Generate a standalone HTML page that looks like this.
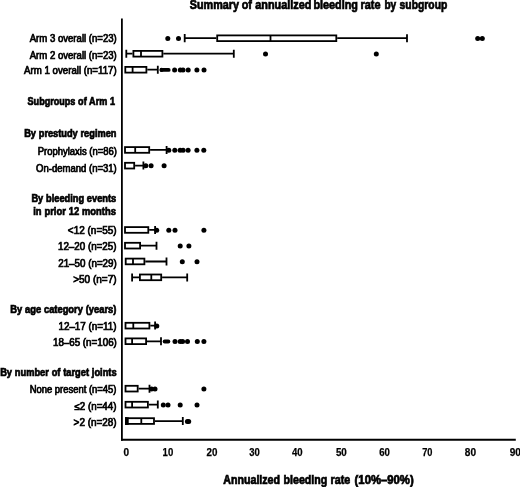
<!DOCTYPE html>
<html lang="en">
<head>
<meta charset="utf-8">
<title>Summary of annualized bleeding rate by subgroup</title>
<style>
html,body{margin:0;padding:0;background:#fff;}
body{width:520px;height:487px;overflow:hidden;}
svg{display:block;}
text{font-family:"Liberation Sans",sans-serif;font-size:10.1px;fill:#000;}
.b{font-weight:bold;stroke:#000;stroke-width:0.7px;word-spacing:0.3px;}
.r{stroke:#000;stroke-width:0.7px;}
.t{font-weight:bold;stroke:#000;stroke-width:0.25px;}
.bx{fill:#fff;stroke:#000;stroke-width:1.8;}
.ln{stroke:#000;stroke-width:1.8;fill:none;}
</style>
</head>
<body>
<svg width="520" height="487" viewBox="0 0 520 487">
<rect width="520" height="487" fill="#fff"/>

<text class="b" y="9.3" style="font-size:12.4px"><tspan x="189.85" textLength="49.15" lengthAdjust="spacingAndGlyphs">Summary</tspan> <tspan x="241.66" textLength="10.23" lengthAdjust="spacingAndGlyphs">of</tspan> <tspan x="255.22" textLength="56.20" lengthAdjust="spacingAndGlyphs">annualized</tspan> <tspan x="313.41" textLength="44.53" lengthAdjust="spacingAndGlyphs">bleeding</tspan> <tspan x="360.48" textLength="20.00" lengthAdjust="spacingAndGlyphs">rate</tspan> <tspan x="384.45" textLength="11.80" lengthAdjust="spacingAndGlyphs">by</tspan> <tspan x="399.61" textLength="47.69" lengthAdjust="spacingAndGlyphs">subgroup</tspan></text>
<text class="b" y="484.0" style="font-size:12.0px"><tspan x="223.28" textLength="56.78" lengthAdjust="spacingAndGlyphs">Annualized</tspan> <tspan x="283.58" textLength="43.67" lengthAdjust="spacingAndGlyphs">bleeding</tspan> <tspan x="330.56" textLength="19.64" lengthAdjust="spacingAndGlyphs">rate</tspan> <tspan x="354.59" textLength="59.10" lengthAdjust="spacingAndGlyphs">(10%–90%)</tspan></text>
<path d="M121.9 18.6V440.7" fill="none" stroke="#000" stroke-width="1.8"/>
<path d="M121 439.8H515.8" fill="none" stroke="#000" stroke-width="1.9"/>
<text class="r" x="29.70" y="41.7" textLength="87.10" lengthAdjust="spacingAndGlyphs">Arm 3 overall (n=23)</text>
<text class="r" x="29.70" y="59.2" textLength="87.10" lengthAdjust="spacingAndGlyphs">Arm 2 overall (n=23)</text>
<text class="r" x="24.11" y="73.5" textLength="92.53" lengthAdjust="spacingAndGlyphs">Arm 1 overall (n=117)</text>
<text class="b" x="27.58" y="105.4" textLength="87.43" lengthAdjust="spacingAndGlyphs" style="font-size:10.6px">Subgroups of Arm 1</text>
<text class="b" x="24.15" y="137.2" textLength="92.28" lengthAdjust="spacingAndGlyphs" style="font-size:10.6px">By prestudy regimen</text>
<text class="r" x="37.82" y="154.6" textLength="79.05" lengthAdjust="spacingAndGlyphs">Prophylaxis (n=86)</text>
<text class="r" x="36.04" y="171.8" textLength="80.77" lengthAdjust="spacingAndGlyphs">On-demand (n=31)</text>
<text class="b" x="31.43" y="201.7" textLength="84.71" lengthAdjust="spacingAndGlyphs" style="font-size:10.6px">By bleeding events</text>
<text class="b" x="33.27" y="215.2" textLength="82.59" lengthAdjust="spacingAndGlyphs" style="font-size:10.6px">in prior 12 months</text>
<text class="r" x="67.87" y="233.8" textLength="48.77" lengthAdjust="spacingAndGlyphs">&lt;12 (n=55)</text>
<text class="r" x="57.96" y="249.6" textLength="58.50" lengthAdjust="spacingAndGlyphs">12–20 (n=25)</text>
<text class="r" x="58.18" y="266.7" textLength="58.64" lengthAdjust="spacingAndGlyphs">21–50 (n=29)</text>
<text class="r" x="73.13" y="283.1" textLength="43.46" lengthAdjust="spacingAndGlyphs">&gt;50 (n=7)</text>
<text class="b" x="10.21" y="312.5" textLength="106.15" lengthAdjust="spacingAndGlyphs" style="font-size:10.6px">By age category (years)</text>
<text class="r" x="58.42" y="330.3" textLength="58.23" lengthAdjust="spacingAndGlyphs">12–17 (n=11)</text>
<text class="r" x="52.96" y="346.0" textLength="63.89" lengthAdjust="spacingAndGlyphs">18–65 (n=106)</text>
<text class="b" x="0.17" y="376.2" textLength="116.40" lengthAdjust="spacingAndGlyphs" style="font-size:10.6px">By number of target joints</text>
<text class="r" x="29.67" y="393.0" textLength="86.77" lengthAdjust="spacingAndGlyphs">None present (n=45)</text>
<text class="r" x="74.51" y="409.5" textLength="41.96" lengthAdjust="spacingAndGlyphs">≤2 (n=44)</text>
<text class="r" x="73.62" y="425.5" textLength="43.04" lengthAdjust="spacingAndGlyphs">&gt;2 (n=28)</text>
<text class="t" x="123.53" y="456.3" textLength="5.59" lengthAdjust="spacingAndGlyphs" style="font-size:11.2px">0</text>
<text class="t" x="162.56" y="456.3" textLength="10.67" lengthAdjust="spacingAndGlyphs" style="font-size:11.2px">10</text>
<text class="t" x="206.45" y="456.3" textLength="10.91" lengthAdjust="spacingAndGlyphs" style="font-size:11.2px">20</text>
<text class="t" x="249.21" y="456.3" textLength="10.55" lengthAdjust="spacingAndGlyphs" style="font-size:11.2px">30</text>
<text class="t" x="291.93" y="456.3" textLength="10.63" lengthAdjust="spacingAndGlyphs" style="font-size:11.2px">40</text>
<text class="t" x="335.92" y="456.3" textLength="10.93" lengthAdjust="spacingAndGlyphs" style="font-size:11.2px">50</text>
<text class="t" x="379.30" y="456.3" textLength="10.66" lengthAdjust="spacingAndGlyphs" style="font-size:11.2px">60</text>
<text class="t" x="422.17" y="456.3" textLength="10.28" lengthAdjust="spacingAndGlyphs" style="font-size:11.2px">70</text>
<text class="t" x="464.80" y="456.3" textLength="11.23" lengthAdjust="spacingAndGlyphs" style="font-size:11.2px">80</text>
<text class="t" x="509.70" y="456.3" textLength="11.23" lengthAdjust="spacingAndGlyphs" style="font-size:11.2px">90</text>
<g><path class="ln" d="M184.7 34.1V42.3M184.7 38.2H216.3"/><path class="ln" d="M337.2 38.2H407.0M407.0 34.2V42.2"/><rect class="bx" x="217.2" y="35.4" width="119.1" height="5.7"/><path class="ln" d="M270.5 35.4V41.1"/><circle cx="167.8" cy="38.5" r="2.5"/><circle cx="178.5" cy="38.5" r="2.5"/><circle cx="477.7" cy="38.5" r="2.5"/><circle cx="482.3" cy="38.5" r="2.5"/></g>
<g><path class="ln" d="M126.3 49.7V57.7M126.3 53.7H132.5"/><path class="ln" d="M163.3 53.7H233.8M233.8 49.7V57.7"/><rect class="bx" x="133.4" y="50.9" width="29.0" height="5.7"/><path class="ln" d="M141.0 50.9V56.6"/><circle cx="265.5" cy="54.0" r="2.5"/><circle cx="376.3" cy="54.0" r="2.5"/></g>
<g><path class="ln" d="M147.3 69.7H157.8M157.8 65.7V73.7"/><rect class="bx" x="125.3" y="66.9" width="21.1" height="5.7"/><path class="ln" d="M132.6 66.9V72.5"/><circle cx="161.6" cy="69.9" r="2.05"/><rect x="159.6" y="68.0" width="11.0" height="3.8" rx="1.9"/><circle cx="174.6" cy="70.0" r="2.5"/><circle cx="180.3" cy="70.0" r="2.5"/><circle cx="183.0" cy="70.0" r="2.5"/><circle cx="188.2" cy="70.0" r="2.5"/><circle cx="196.9" cy="70.0" r="2.5"/><circle cx="204.0" cy="70.0" r="2.5"/></g>
<g><path class="ln" d="M150.1 149.9H166.6M166.6 145.9V153.9"/><rect class="bx" x="125.0" y="147.1" width="24.2" height="5.7"/><path class="ln" d="M135.2 147.1V152.8"/><circle cx="168.8" cy="150.2" r="2.5"/><circle cx="174.8" cy="150.2" r="2.5"/><circle cx="180.1" cy="150.2" r="2.5"/><circle cx="183.1" cy="150.2" r="2.5"/><circle cx="188.1" cy="150.2" r="2.5"/><circle cx="196.9" cy="150.2" r="2.5"/><circle cx="203.8" cy="150.2" r="2.5"/></g>
<g><path class="ln" d="M135.1 165.6H143.4M143.4 161.6V169.6"/><rect class="bx" x="125.0" y="162.8" width="9.2" height="5.7"/><circle cx="145.8" cy="165.8" r="2.5"/><circle cx="151.1" cy="165.8" r="2.5"/><circle cx="164.1" cy="165.8" r="2.5"/></g>
<g><path class="ln" d="M149.2 229.9H155.1M155.1 225.9V233.9"/><rect class="bx" x="125.0" y="227.1" width="23.3" height="5.7"/><circle cx="156.7" cy="230.2" r="2.5"/><circle cx="168.8" cy="230.2" r="2.5"/><circle cx="175.0" cy="230.2" r="2.5"/><circle cx="203.9" cy="230.2" r="2.5"/></g>
<g><path class="ln" d="M141.0 245.7H156.5M156.5 241.7V249.7"/><rect class="bx" x="125.0" y="242.8" width="15.1" height="5.7"/><circle cx="180.2" cy="245.9" r="2.5"/><circle cx="188.9" cy="245.9" r="2.5"/></g>
<g><path class="ln" d="M145.3 261.5H166.5M166.5 257.5V265.5"/><rect class="bx" x="125.7" y="258.6" width="18.7" height="5.7"/><path class="ln" d="M133.0 258.6V264.4"/><circle cx="182.3" cy="261.8" r="2.5"/><circle cx="197.0" cy="261.8" r="2.5"/></g>
<g><path class="ln" d="M132.1 273.4V281.4M132.1 277.4H139.0"/><path class="ln" d="M162.1 277.4H187.2M187.2 273.4V281.4"/><rect class="bx" x="139.9" y="274.5" width="21.3" height="5.7"/><path class="ln" d="M151.3 274.5V280.2"/></g>
<g><path class="ln" d="M150.3 325.6H155.1M155.1 321.6V329.6"/><rect class="bx" x="125.5" y="322.8" width="23.9" height="5.7"/><path class="ln" d="M133.3 322.8V328.5"/><circle cx="156.8" cy="325.9" r="2.5"/></g>
<g><path class="ln" d="M147.0 341.3H161.0M161.0 337.3V345.3"/><rect class="bx" x="125.5" y="338.4" width="20.6" height="5.7"/><path class="ln" d="M132.1 338.4V344.2"/><rect x="162.7" y="339.6" width="7.6" height="3.8" rx="1.9"/><circle cx="175.0" cy="341.6" r="2.5"/><circle cx="180.2" cy="341.6" r="2.5"/><circle cx="182.6" cy="341.6" r="2.5"/><circle cx="187.5" cy="341.6" r="2.5"/><circle cx="197.3" cy="341.6" r="2.5"/><circle cx="203.9" cy="341.6" r="2.5"/></g>
<g><path class="ln" d="M138.6 388.7H149.5M149.5 384.7V392.7"/><rect class="bx" x="125.5" y="385.8" width="12.2" height="5.7"/><circle cx="151.5" cy="388.9" r="2.5"/><circle cx="155.0" cy="388.9" r="2.5"/><circle cx="203.9" cy="388.9" r="2.5"/></g>
<g><path class="ln" d="M148.8 404.6H157.8M157.8 400.6V408.6"/><rect class="bx" x="125.5" y="401.8" width="22.4" height="5.7"/><path class="ln" d="M132.1 401.8V407.5"/><circle cx="163.3" cy="404.9" r="2.5"/><circle cx="168.0" cy="404.9" r="2.5"/><circle cx="180.2" cy="404.9" r="2.5"/><circle cx="197.0" cy="404.9" r="2.5"/></g>
<g><path class="ln" d="M126.0 417.1V425.1M126.0 421.1H126.9"/><rect x="125.10" y="417.35" width="3.60" height="7.50"/><path class="ln" d="M154.9 421.1H182.8M182.8 417.1V425.1"/><rect class="bx" x="127.8" y="418.2" width="26.2" height="5.7"/><path class="ln" d="M141.3 418.2V424.0"/><circle cx="187.4" cy="421.4" r="2.5"/><circle cx="188.7" cy="421.4" r="2.5"/></g>
</svg>
</body>
</html>
